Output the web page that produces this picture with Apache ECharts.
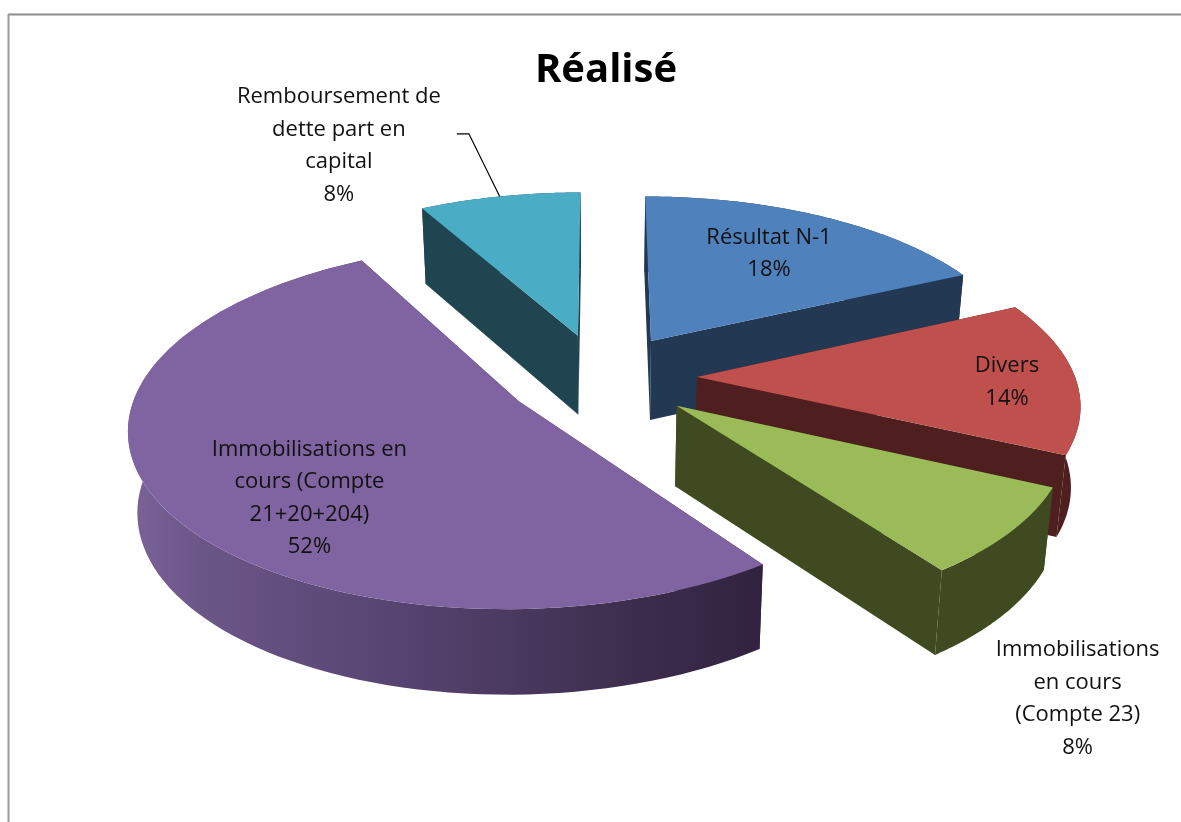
<!DOCTYPE html>
<html>
<head>
<meta charset="utf-8">
<script src="https://cdn.jsdelivr.net/npm/echarts@6/dist/echarts.min.js"></script>
<style>html,body{margin:0;padding:0;background:#fff}#c{width:1181px;height:822px}</style>
</head>
<body>
<div id="c"></div>
<script>
// ---- data ----
var titleText = 'Réalisé';
var categories = ['Résultat N-1', 'Divers', 'Immobilisations\nen cours\n(Compte 23)', 'Immobilisations en\ncours (Compte\n21+20+204)', 'Remboursement de\ndette part en\ncapital'];
var values = [18, 14, 8, 52, 8];

// ---- style / layout ----
var topColors = ['#4f81bd', '#c0504d', '#9bbb59', '#8064a2', '#4bacc6'];
var wallColors = ['#223853', '#4e1f1e', '#3f4a20', '#32243f', '#1f4550'];
var paintOrder = [4, 0, 1, 2, 3];
var labelOffsets = [[118, -87], [310, 5], [401, 293], [-209, 97], [-239, -190]];
var leaderSlice = 4;
var view = {cx: 601, cy: 377, A: 378, B: 173, k: 0.135, explode: 0.254, depth: 80, depthPow: 0.4, shrink: 0.02};

function project(X, Y, z) {
  var w = 1 / (1 - view.k * Y);
  var x = view.cx + view.A * X * w;
  var y = view.cy + view.B * Y * w;
  if (z) {
    x = view.cx + (x - view.cx) * (1 - view.shrink * z);
    y += view.depth * z * Math.pow(w, view.depthPow);
  }
  return [x, y];
}

var total = values.reduce(function (a, b) { return a + b; }, 0);
function sliceAngles(i) {
  var s = 0;
  for (var j = 0; j < i; j++) s += values[j];
  return [s / total * 2 * Math.PI, (s + values[i]) / total * 2 * Math.PI];
}

function renderItem(params, api) {
  var i = paintOrder[params.dataIndex];
  var val = api.value(1);
  var ang = sliceAngles(i), a0 = ang[0], a1 = ang[1], mid = (a0 + a1) / 2;
  var ox = Math.sin(mid) * view.explode, oy = -Math.cos(mid) * view.explode;
  var n = 90, top = [], bot = [];
  for (var t = 0; t <= n; t++) {
    var a = a0 + (a1 - a0) * t / n;
    var X = ox + Math.sin(a), Y = oy - Math.cos(a);
    top.push(project(X, Y, 0));
    bot.push(project(X, Y, 1));
  }
  var apexT = project(ox, oy, 0), apexB = project(ox, oy, 1);
  var wall = wallColors[i];
  var outerFill = wall;
  if (i === 3) {
    outerFill = new echarts.graphic.LinearGradient(0, 0, 1, 0, [
      {offset: 0, color: '#7a6398'}, {offset: 0.12, color: '#6b5688'},
      {offset: 0.45, color: '#55426f'}, {offset: 0.8, color: '#3c2d4c'},
      {offset: 1, color: '#312340'}
    ]);
  }
  var children = [];
  function poly(pts, fill) {
    children.push({type: 'polygon', shape: {points: pts}, style: {fill: fill, stroke: null}});
  }
  poly([apexT, top[0], bot[0], apexB], wall);
  poly([apexT, top[n], bot[n], apexB], wall);
  poly(top.concat(bot.slice().reverse()), outerFill);
  poly([apexT].concat(top), topColors[i]);

  var lx = apexT[0] + labelOffsets[i][0], ly = apexT[1] + labelOffsets[i][1];
  if (i === leaderSlice) {
    var m = project(ox + Math.sin(mid), oy - Math.cos(mid), 0);
    children.push({type: 'polyline', shape: {points: [[lx + 118, ly - 12], [lx + 130, ly - 12], m]},
      style: {stroke: '#000', lineWidth: 1.2, fill: null}});
  }
  children.push({type: 'text', z2: 50, style: {
    x: lx, y: ly, text: categories[i] + '\n' + val + '%',
    font: '22px "Open Sans"', lineHeight: 32.5, fill: '#111',
    align: 'center', verticalAlign: 'middle'
  }});
  return {type: 'group', children: children};
}

var chart = echarts.init(document.getElementById('c'), null, {renderer: 'canvas'});
chart.setOption({
  backgroundColor: '#fff',
  animation: false,
  title: {
    text: titleText, left: 601, top: 66, textAlign: 'center', textVerticalAlign: 'middle',
    textStyle: {fontFamily: 'Open Sans', fontWeight: 'bold', fontSize: 40, color: '#000'}
  },
  graphic: [
    {type: 'line', shape: {x1: 8, y1: 14.5, x2: 1181, y2: 14.5}, style: {stroke: '#8c8c8c', lineWidth: 2}},
    {type: 'line', shape: {x1: 8.5, y1: 14, x2: 8.5, y2: 822}, style: {stroke: '#9a9a9a', lineWidth: 2}}
  ],
  series: [{
    type: 'custom',
    coordinateSystem: 'none',
    renderItem: renderItem,
    data: paintOrder.map(function (i) { return [categories[i], values[i]]; })
  }]
});
</script>
</body>
</html>
